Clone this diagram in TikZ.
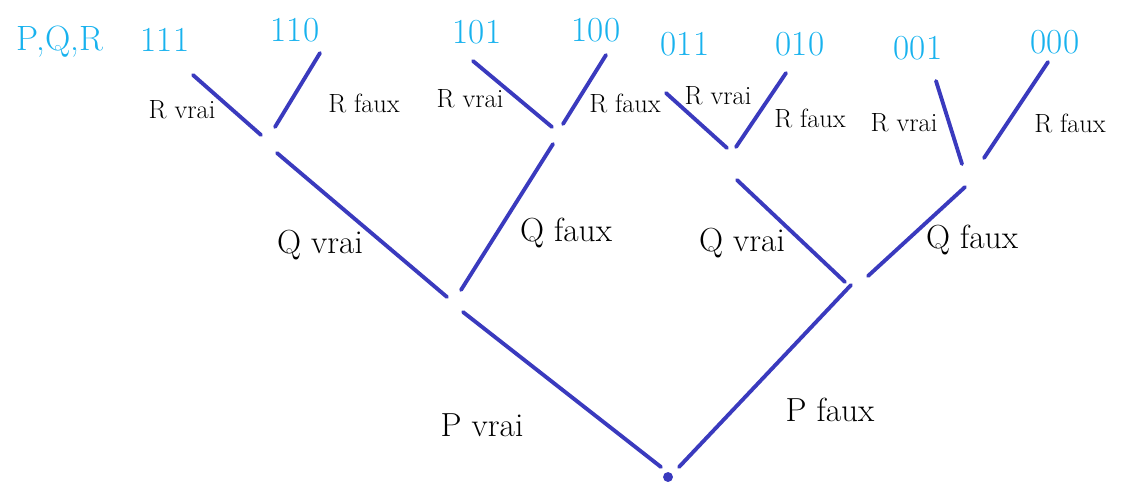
\documentclass[tikz,border=0pt]{standalone}
\usepackage{xcolor}
\usepackage{tikz}
\usetikzlibrary{positioning}

\definecolor{branchblue}{RGB}{58,58,190}
\definecolor{leafblue}{RGB}{24,178,238}

\begin{document}
\begin{tikzpicture}[x=0.02cm,y=-0.02cm,
		branch/.style={draw=branchblue,line width=2.2pt,line cap=round},
		leaf/.style={text=leafblue,font=\fontsize{20}{24}\selectfont},
		lab/.style={font=\fontsize{19}{23}\selectfont},
		rlab/.style={font=\fontsize{15}{18}\selectfont,inner sep=1pt}]
			
			\useasboundingbox (0,0) rectangle (1128,481);
			
			% ends of the branches
			\coordinate (p1a) at (463,312); \coordinate (p1b) at (661,467);
			\coordinate (p2a) at (851,285); \coordinate (p2b) at (679,467);
			\coordinate (q1a) at (277,153); \coordinate (q1b) at (447,297);
			\coordinate (q2a) at (553,144); \coordinate (q2b) at (461,290);
			\coordinate (q3a) at (737,180); \coordinate (q3b) at (845,282);
			\coordinate (q4a) at (965,187); \coordinate (q4b) at (868,276);
			\coordinate (r1a) at (193,75);  \coordinate (r1b) at (261,135);
			\coordinate (r2a) at (320,53);  \coordinate (r2b) at (275,127);
			\coordinate (r3a) at (473,61);  \coordinate (r3b) at (552,127);
			\coordinate (r4a) at (606,55);  \coordinate (r4b) at (563,124);
			\coordinate (r5a) at (666,93);  \coordinate (r5b) at (727,148);
			\coordinate (r6a) at (786,73);  \coordinate (r6b) at (736,147);
			\coordinate (r7a) at (936,81);  \coordinate (r7b) at (962,164);
			\coordinate (r8a) at (1048,62); \coordinate (r8b) at (984,158);
			
			\node[circle,fill=branchblue,inner sep=2pt] (root) at (668,477) {};
			
			\draw[branch] (p1a) -- (p1b);
			\draw[branch] (p2a) -- (p2b);
			\draw[branch] (q1a) -- (q1b);
			\draw[branch] (q2a) -- (q2b);
			\draw[branch] (q3a) -- (q3b);
			\draw[branch] (q4a) -- (q4b);
			\draw[branch] (r1a) -- (r1b);
			\draw[branch] (r2a) -- (r2b);
			\draw[branch] (r3a) -- (r3b);
			\draw[branch] (r4a) -- (r4b);
			\draw[branch] (r5a) -- (r5b);
			\draw[branch] (r6a) -- (r6b);
			\draw[branch] (r7a) -- (r7b);
			\draw[branch] (r8a) -- (r8b);
			
			% values of P,Q,R
			\node[leaf] (head) at (60,42) {P,Q,R};
			\node[leaf] (v111) at (165,40) {111};
			\node[leaf] (v110) at (295,30) {110};
			\node[leaf] (v101) at (477,32) {101};
			\node[leaf] (v100) at (596,30) {100};
			\node[leaf] (v011) at (685,44) {011};
			\node[leaf] (v010) at (800,44) {010};
			\node[leaf] (v001) at (918,48) {001};
			\node[leaf] (v000) at (1055,42) {000};
			
			% branch labels
			\node[rlab] (rv1) at (182,110) {R vrai};
			\node[rlab] (rf1) at (364,103) {R faux};
			\node[rlab] (rv2) at (470,99) {R vrai};
			\node[rlab] (rf2) at (625,103) {R faux};
			\node[rlab] (rv3) at (718,96) {R vrai};
			\node[rlab] (rf3) at (810,118) {R faux};
			\node[rlab] (rv4) at (904,123) {R vrai};
			\node[rlab] (rf4) at (1070,123) {R faux};
			\node[lab] (qv1) at (320,245) {Q vrai};
			\node[lab] (qf1) at (566,233) {Q faux};
			\node[lab] (qv2) at (742,243) {Q vrai};
			\node[lab] (qf2) at (972,240) {Q faux};
			\node[lab] (pv) at (482,425) {P vrai};
			\node[lab] (pf) at (830,410) {P faux};
			
		\end{tikzpicture}
\end{document}
